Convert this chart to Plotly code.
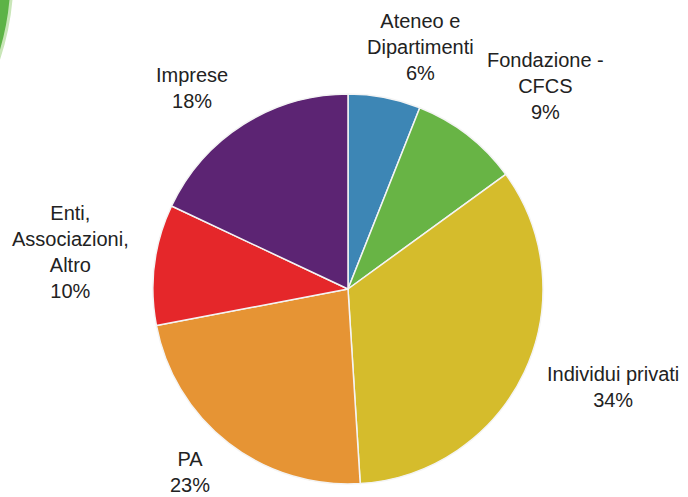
import plotly.graph_objects as go

labels = ["Ateneo e<br>Dipartimenti", "Fondazione -<br>CFCS", "Individui privati",
          "PA", "Enti,<br>Associazioni,<br>Altro", "Imprese"]
values = [6, 9, 34, 23, 10, 18]
colors = ["#3d86b5", "#68b445", "#d5bc2c", "#e69434", "#e5272a", "#5c2473"]

# label centres in pixels (x, y from top)
label_px = [(420, 47), (545, 86), (613, 387), (190, 472), (70, 252), (192, 88)]

W, H = 688, 497
fig = go.Figure(go.Pie(
    values=values,
    labels=labels,
    marker=dict(colors=colors, line=dict(color="#f4f4f4", width=1.5)),
    sort=False,
    direction="clockwise",
    rotation=0,
    textinfo="none",
    hoverinfo="label+percent",
    showlegend=False,
    domain=dict(x=[153 / W, 543 / W], y=[1 - 484 / H, 1 - 94 / H]),
))

total = sum(values)
annotations = []
for lab, v, (px, py) in zip(labels, values, label_px):
    annotations.append(dict(
        x=px / W, y=1 - py / H, xref="paper", yref="paper",
        text=f"{lab}<br>{round(100 * v / total)}%",
        showarrow=False, xanchor="center", yanchor="middle", align="center",
        font=dict(family="Liberation Sans, Arial, sans-serif", size=20, color="#222222"),
    ))

fig.update_layout(
    width=W, height=H,
    margin=dict(l=0, r=0, t=0, b=0),
    paper_bgcolor="white", plot_bgcolor="white",
    annotations=annotations,
    shapes=[dict(type="circle", xref="paper", yref="paper",
                 x0=(-253 - 267) / W, x1=(-253 + 265) / W,
                 y0=1 - 240 / H, y1=1 + 287 / H,
                 fillcolor="#5db346", line=dict(color="#c9e6b8", width=3), layer="above")],
)

fig.write_html("out.html", config={"displayModeBar": False},
               post_script="document.body.style.margin='0';")
